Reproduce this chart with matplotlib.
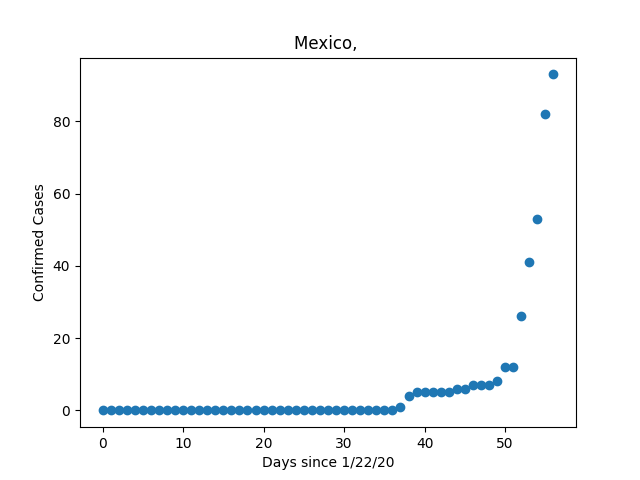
import numpy as np
import matplotlib
matplotlib.use('Agg')
import matplotlib.pyplot as plt

## DATA ##
days = np.arange(57)
cases = [0] * 37 + [1, 4, 5, 5, 5, 5, 5, 6, 6, 7, 7, 7, 8, 12, 12, 26, 41, 53, 82, 93]

## PLOT ##
fig = plt.figure(figsize=(6.4, 4.8), dpi=100)
plt.scatter(days, cases)
plt.title('Mexico, ')
plt.xlabel('Days since 1/22/20')
plt.ylabel('Confirmed Cases')
plt.savefig('out.png')
plt.close()
